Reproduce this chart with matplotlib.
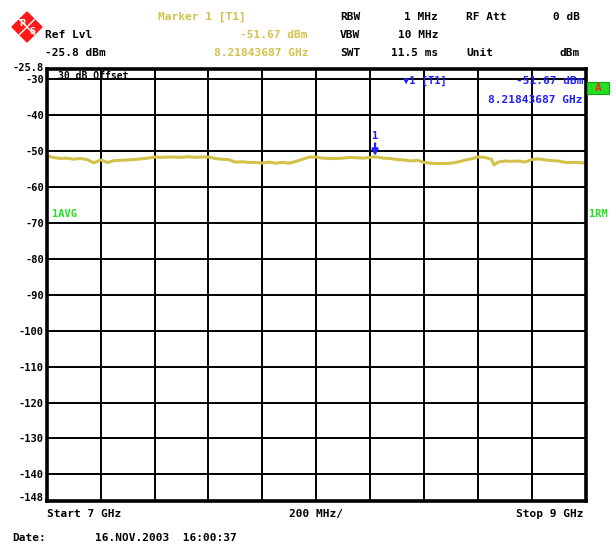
import numpy as np
import matplotlib
matplotlib.use("Agg")
import matplotlib.pyplot as plt
from matplotlib.patches import Polygon, Rectangle

# trace (GHz, dBm)
freq_ghz = [7.000, 7.025, 7.050, 7.075, 7.100, 7.125, 7.150, 7.175, 7.200, 7.225,
            7.250, 7.275, 7.300, 7.325, 7.350, 7.375, 7.400, 7.425, 7.450, 7.475,
            7.500, 7.525, 7.550, 7.575, 7.600, 7.625, 7.650, 7.675, 7.700, 7.725,
            7.750, 7.775, 7.800, 7.825, 7.850, 7.875, 7.900, 7.925, 7.950, 7.975,
            8.000, 8.025, 8.050, 8.075, 8.100, 8.125, 8.150, 8.175, 8.200, 8.218,
            8.225, 8.250, 8.275, 8.300, 8.325, 8.350, 8.375, 8.400, 8.425, 8.450,
            8.475, 8.500, 8.525, 8.550, 8.575, 8.600, 8.625, 8.650, 8.660, 8.675,
            8.700, 8.725, 8.750, 8.775, 8.800, 8.825, 8.850, 8.875, 8.900, 8.925,
            8.950, 8.975, 9.000]
level_dbm = [-51.4, -51.8, -52.1, -52.0, -52.3, -52.1, -52.4, -53.3, -52.5, -53.2,
             -52.7, -52.6, -52.5, -52.4, -52.2, -52.0, -51.7, -51.8, -51.7, -51.7,
             -51.8, -51.6, -51.8, -51.7, -51.7, -52.1, -52.3, -52.4, -53.1, -53.0,
             -53.2, -53.2, -53.4, -53.1, -53.4, -53.2, -53.4, -52.9, -52.3, -51.7,
             -51.7, -52.0, -52.1, -52.1, -52.0, -51.8, -51.9, -52.0, -51.8, -51.67,
             -51.7, -52.0, -52.1, -52.4, -52.5, -52.8, -52.6, -53.2, -53.4, -53.5,
             -53.5, -53.4, -53.1, -52.6, -52.2, -51.7, -51.8, -52.3, -53.9, -53.1,
             -52.8, -52.9, -52.8, -53.1, -52.4, -52.2, -52.5, -52.7, -52.8, -53.2,
             -53.2, -53.2, -53.4]

marker_freq = 8.21843687
marker_level = -51.67

x_grid = [7.0, 7.2, 7.4, 7.6, 7.8, 8.0, 8.2, 8.4, 8.6, 8.8, 9.0]
y_ticks = [-30, -40, -50, -60, -70, -80, -90, -100, -110, -120, -130, -140]

W, H = 616, 547
yellow = "#d2c24a"
blue = "#1f1fff"
green = "#22e022"
mono = ["DejaVu Sans Mono"]

fig = plt.figure(figsize=(W / 100, H / 100), dpi=100)
fig.patch.set_facecolor("white")


def px(x, y):
    return x / W, 1 - y / H


def ptext(x, y, s, color="black", ha="left", size=8, **kw):
    fig.text(*px(x, y), s, color=color, ha=ha, va="center", fontsize=size,
             family=mono, fontweight="bold", **kw)


ax = fig.add_axes([46.7 / W, 1 - 501 / H, (585.7 - 46.7) / W, (501 - 69) / H])
ax.set_xlim(7, 9)
ax.set_ylim(-147.4, -27.2)
ax.set_xticks(x_grid)
ax.set_yticks(y_ticks)
ax.set_xticklabels([])
ax.set_yticklabels([str(v) for v in y_ticks], fontsize=7.5, fontweight="bold",
                   family=mono)
ax.tick_params(length=0, pad=2)
ax.grid(True, color="black", lw=1.4)
for sp in ax.spines.values():
    sp.set_linewidth(2.6)

ax.plot(freq_ghz, level_dbm, color=yellow, lw=2.2)
ax.annotate("1", xy=(marker_freq, marker_level + 0.3), xytext=(0, 11),
            textcoords="offset points", ha="center", va="bottom", color=blue,
            fontsize=7.5, fontweight="bold", family=mono,
            arrowprops=dict(arrowstyle="-|>", color=blue, lw=1.6,
                            mutation_scale=9, shrinkA=0, shrinkB=0))

# R&S logo
cx, cy, r = 27, 27, 15
logo = Polygon([px(cx, cy - r), px(cx + r, cy), px(cx, cy + r), px(cx - r, cy)],
               closed=True, transform=fig.transFigure, color="#ff1a1a")
fig.patches.append(logo)
fig.lines.append(plt.Line2D(*zip(px(cx - r / 2, cy - r / 2), px(cx + r / 2, cy + r / 2)),
                            transform=fig.transFigure, color="white", lw=1))
fig.lines.append(plt.Line2D(*zip(px(cx + r / 2, cy - r / 2), px(cx - r / 2, cy + r / 2)),
                            transform=fig.transFigure, color="white", lw=1))
fig.text(*px(cx - 5, cy - 4), "R", color="white", ha="center", va="center",
         fontsize=6, fontweight="bold")
fig.text(*px(cx + 5, cy + 5), "S", color="white", ha="center", va="center",
         fontsize=6, fontweight="bold")

# header
ptext(45, 35, "Ref Lvl")
ptext(45, 53, "-25.8 dBm")
ptext(158, 17, "Marker 1 [T1]", color=yellow)
ptext(308, 35, "-51.67 dBm", color=yellow, ha="right")
ptext(308, 53, "8.21843687 GHz", color=yellow, ha="right")
ptext(340, 17, "RBW")
ptext(340, 35, "VBW")
ptext(340, 53, "SWT")
ptext(438, 17, "1 MHz", ha="right")
ptext(438, 35, "10 MHz", ha="right")
ptext(438, 53, "11.5 ms", ha="right")
ptext(466, 17, "RF Att")
ptext(466, 53, "Unit")
ptext(580, 17, "0 dB", ha="right")
ptext(580, 53, "dBm", ha="right")

# inside the grid
ptext(58, 76, "30 dB Offset", size=7)
ptext(403, 81, "\u25bc1 [T1]", color=blue, size=7.5)
ptext(583, 81, "-51.67 dBm", color=blue, ha="right")
ptext(583, 100, "8.21843687 GHz", color=blue, ha="right")
ptext(52, 214, "1AVG", color=green, size=7.5)
ptext(589, 214, "1RM", color=green, size=7.5)

box = Rectangle(px(587, 94), 22 / W, 12 / H, transform=fig.transFigure,
                facecolor=green, edgecolor="#11aa11", lw=0.8)
fig.patches.append(box)
fig.text(*px(598, 88), "A", color="#ff2020", ha="center", va="center",
         fontsize=8, fontweight="bold", family=mono)

# y extremes
ptext(44, 68, "-25.8", ha="right", size=7.5)
ptext(44, 498, "-148", ha="right", size=7.5)

# footer
ptext(47, 514, "Start 7 GHz")
ptext(316, 514, "200 MHz/", ha="center")
ptext(583, 514, "Stop 9 GHz", ha="right")
ptext(12, 538, "Date:")
ptext(95, 538, "16.NOV.2003  16:00:37")

fig.savefig("out.png", dpi=100, facecolor="white")
